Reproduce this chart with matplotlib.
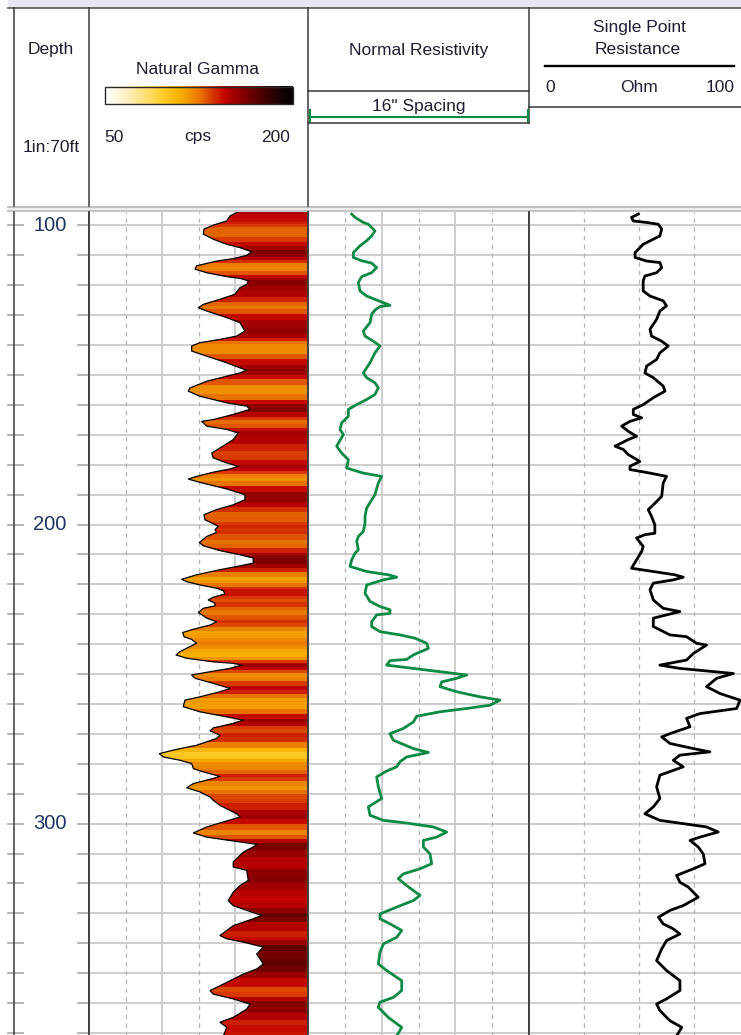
import numpy as np
import matplotlib
matplotlib.use("Agg")
import matplotlib.pyplot as plt
from matplotlib.colors import LinearSegmentedColormap
from matplotlib.patches import Rectangle
from matplotlib.transforms import blended_transform_factory

plt.rcParams['font.family'] = ['Liberation Sans', 'DejaVu Sans']

# ---------------------------------------------------------------- log data
GAMMA_DEPTH = [
    95.5, 96.8, 98.5, 99.2, 99.9, 101.2, 102.9, 104.6, 106.3, 107.4, 108.8,
    110.0, 111.1, 111.9, 113.5, 114.6, 115.8, 117.1, 117.7, 118.5, 119.7,
    120.8, 123.0, 124.7, 126.4, 127.5, 128.6, 130.8, 132.5, 135.3, 137.0,
    138.1, 139.2, 140.3, 142.0, 143.7, 145.9, 147.6, 148.4, 149.3, 150.4,
    152.1, 154.3, 155.4, 157.1, 159.3, 160.4, 161.5, 163.2, 164.9, 165.5,
    167.1, 168.2, 169.4, 171.6, 174.4, 176.1, 177.7, 179.4, 180.5, 181.4,
    182.5, 183.9, 184.8, 185.9, 188.1, 190.0, 191.7, 193.4, 195.0, 196.7,
    198.4, 199.7, 200.6, 201.7, 202.6, 204.0, 206.0, 207.1, 208.7, 210.1,
    211.2, 212.9, 213.8, 215.1, 216.8, 218.3, 219.1, 220.2, 221.3, 222.1,
    223.2, 224.3, 225.2, 226.3, 227.2, 228.0, 229.4, 231.3, 232.5, 233.6,
    235.0, 236.1, 237.5, 238.4, 239.7, 240.8, 242.5, 243.6, 244.7, 245.9,
    246.4, 247.0, 248.1, 249.2, 250.3, 251.4, 253.1, 254.8, 255.9, 257.6,
    258.7, 260.9, 262.6, 264.3, 265.4, 266.5, 268.0, 269.0, 270.4, 271.5,
    273.8, 275.4, 276.6, 277.7, 278.8, 279.9, 281.6, 282.7, 284.2, 284.9,
    286.6, 288.0, 289.4, 291.1, 292.2, 293.9, 296.7, 297.8, 299.1, 301.1,
    303.1, 304.5, 305.8, 306.9, 307.8, 309.5, 312.8, 314.5, 315.6, 319.0,
    320.7, 322.9, 325.7, 327.4, 329.0, 330.7, 331.8, 334.1, 337.4, 338.5,
    339.6, 341.3, 343.6, 346.9, 348.6, 350.3, 353.1, 355.8, 357.0, 358.6,
    360.3, 362.0, 364.8, 366.4, 368.1, 371.0,
]
GAMMA_CPS = [
    152.0, 146.6, 144.3, 139.7, 135.1, 128.8, 128.3, 135.1, 144.3, 153.4, 161.4,
    158.0, 148.8, 137.4, 123.7, 122.6, 130.6, 144.3, 153.4, 159.1, 158.0,
    153.4, 150.0, 139.7, 128.3, 124.9, 130.6, 144.3, 153.4, 156.8, 151.1,
    139.7, 126.0, 120.3, 120.3, 130.6, 144.3, 153.4, 158.0, 153.4, 144.3,
    130.6, 119.2, 118.0, 126.0, 144.3, 158.0, 160.3, 148.8, 135.1, 127.2,
    130.6, 144.3, 152.3, 148.8, 139.7, 134.0, 135.1, 144.3, 152.3, 146.6,
    135.1, 123.7, 118.0, 126.0, 144.3, 156.8, 156.8, 148.8, 137.4, 128.8,
    129.4, 135.1, 138.6, 136.3, 137.4, 130.6, 125.6, 128.3, 139.7, 153.4,
    162.5, 162.5, 153.4, 139.7, 123.7, 113.5, 116.9, 126.0, 137.4, 142.0,
    143.1, 135.1, 131.7, 136.3, 136.3, 128.3, 124.9, 130.6, 137.4, 132.9,
    121.5, 114.2, 115.1, 120.3, 123.7, 119.2, 112.3, 109.6, 116.9, 135.1,
    148.8, 154.6, 146.6, 132.9, 120.3, 122.6, 135.1, 146.6, 139.7, 126.0,
    115.7, 114.6, 126.0, 144.3, 155.7, 148.8, 135.1, 132.9, 139.7, 137.4,
    123.7, 107.8, 98.2, 100.9, 112.3, 120.3, 121.5, 128.3, 139.7, 135.1,
    121.5, 116.9, 126.0, 132.9, 135.1, 139.7, 151.1, 153.4, 144.3, 130.6,
    121.5, 130.6, 148.8, 164.8, 162.5, 155.7, 148.8, 148.8, 158.0, 159.1,
    153.4, 148.8, 145.4, 148.8, 158.0, 168.3, 162.5, 148.8, 139.7, 144.3,
    155.7, 169.4, 164.8, 169.4, 164.8, 155.7, 144.3, 132.9, 135.1, 148.8,
    160.3, 158.0, 148.8, 139.7, 144.3, 142.0,
]

RES_DEPTH = [
    96.2, 97.3, 99.0, 99.6, 101.8, 103.5, 105.1, 106.8, 109.1, 110.7, 111.8,
    112.6, 114.1, 115.8, 117.1, 119.1, 121.9, 123.6, 124.7, 125.8, 126.7,
    127.1, 128.3, 129.7, 132.5, 135.3, 137.0, 138.7, 140.3, 142.6, 145.9,
    149.3, 150.9, 152.6, 154.3, 156.5, 158.2, 159.9, 161.5, 163.8, 166.0,
    168.2, 169.9, 173.8, 176.1, 178.3, 181.1, 182.8, 183.9, 186.1, 190.0,
    194.5, 197.3, 199.5, 202.3, 204.0, 205.6, 208.4, 209.6, 211.8, 214.0,
    215.7, 216.8, 217.6, 218.5, 220.2, 223.0, 225.7, 227.4, 228.5, 229.7,
    230.2, 232.5, 234.1, 235.8, 236.9, 238.0, 239.7, 241.4, 243.6, 245.1,
    245.5, 247.0, 248.1, 249.2, 250.3, 251.4, 252.6, 254.2, 255.9, 257.6,
    258.7, 260.4, 261.5, 262.6, 264.1, 266.0, 268.2, 269.9, 272.1, 274.9,
    276.2, 277.7, 279.3, 281.0, 282.4, 284.4, 287.7, 291.6, 294.4, 297.2,
    298.9, 299.8, 301.1, 302.8, 304.5, 305.6, 307.8, 310.1, 313.4, 315.1,
    316.8, 318.4, 320.7, 324.0, 325.7, 327.9, 330.2, 331.8, 333.5, 335.7,
    338.0, 340.2, 343.0, 346.9, 349.1, 352.5, 355.8, 358.1, 359.7, 361.4,
    364.8, 368.1, 371.0,
]
RES_OHMM = [
    59.3, 63.8, 75.1, 81.9, 90.9, 86.4, 79.6, 70.6, 61.5, 61.5, 72.9,
    86.4, 93.2, 86.4, 72.9, 68.3, 70.6, 79.6, 90.9, 102.3, 111.3,
    97.7, 90.9, 86.4, 84.2, 75.1, 77.4, 88.7, 97.7, 90.9, 84.2,
    75.1, 79.6, 90.9, 95.5, 90.9, 79.6, 66.1, 54.8, 54.8, 45.7,
    43.4, 48.0, 38.9, 45.7, 54.8, 52.5, 75.1, 100.0, 95.5, 90.9,
    79.6, 77.4, 77.4, 75.1, 68.3, 66.1, 68.3, 63.8, 59.3, 57.0,
    79.6, 109.1, 120.4, 102.3, 79.6, 77.4, 84.2, 97.7, 111.3, 111.3,
    93.2, 86.4, 86.4, 97.7, 124.9, 145.3, 161.1, 163.4, 143.0, 133.9,
    111.3, 106.8, 143.0, 179.2, 215.4, 201.8, 181.5, 179.2, 201.8, 233.5,
    260.6, 247.1, 215.4, 179.2, 147.5, 143.0, 129.4, 111.3, 115.8, 143.0,
    163.4, 133.9, 124.9, 120.4, 106.8, 93.2, 95.5, 100.0, 81.9, 84.2,
    102.3, 133.9, 170.1, 188.2, 174.7, 156.6, 156.6, 165.6, 167.9, 152.0,
    129.4, 122.6, 133.9, 152.0, 143.0, 120.4, 97.7, 97.7, 111.3, 127.2,
    120.4, 102.3, 97.7, 95.5, 106.8, 127.2, 127.2, 115.8, 97.7, 95.5,
    109.1, 127.2, 120.4,
]

SPR_DEPTH = [
    96.2, 97.3, 98.5, 99.0, 99.6, 101.2, 103.5, 104.6, 106.3, 109.1, 110.7,
    111.9, 112.4, 114.1, 115.8, 116.9, 118.5, 121.9, 123.6, 125.2, 126.9,
    128.6, 131.4, 134.7, 137.0, 138.7, 140.3, 142.6, 144.8, 147.0, 149.3,
    150.9, 153.7, 155.4, 157.6, 159.9, 161.5, 163.2, 164.3, 165.5, 167.1,
    168.8, 170.5, 171.6, 173.8, 174.9, 176.6, 178.9, 180.5, 181.6, 182.8,
    183.9, 186.1, 190.6, 193.4, 195.0, 197.3, 200.1, 202.9, 203.4, 204.5,
    207.3, 209.0, 211.8, 214.6, 215.7, 216.8, 217.6, 218.5, 219.6, 221.8,
    225.2, 228.0, 229.1, 230.2, 231.3, 234.1, 236.9, 237.5, 239.7, 240.3,
    243.1, 245.3, 247.0, 248.1, 249.8, 251.4, 254.2, 256.5, 258.7, 261.5,
    263.2, 264.8, 267.6, 269.9, 271.0, 273.2, 274.9, 276.0, 277.1, 278.8,
    281.0, 283.8, 287.7, 291.6, 294.4, 296.7, 298.9, 300.0, 301.1, 302.8,
    304.5, 305.6, 307.8, 310.1, 313.4, 315.1, 317.3, 319.6, 321.2, 324.6,
    327.4, 329.0, 331.3, 333.5, 335.2, 336.9, 339.1, 341.9, 345.8, 349.1,
    352.5, 355.8, 358.6, 360.3, 362.5, 365.9, 368.1, 371.0,
]
SPR_OHM = [
    49.7, 46.6, 47.4, 53.5, 58.8, 60.3, 59.5, 56.5, 51.9, 48.2, 48.2,
    53.5, 59.5, 60.3, 58.0, 52.7, 51.9, 51.9, 55.0, 61.0, 62.5,
    59.5, 58.0, 55.0, 55.7, 60.3, 63.3, 59.5, 58.0, 53.5, 52.7,
    56.5, 61.0, 61.8, 56.5, 51.9, 47.4, 47.4, 51.2, 45.9, 42.1,
    45.1, 48.9, 45.1, 39.1, 42.9, 45.1, 50.4, 45.9, 45.9, 55.0,
    62.5, 61.0, 60.3, 56.5, 54.2, 55.7, 57.2, 57.2, 52.7, 48.9,
    51.9, 51.2, 48.9, 46.6, 56.5, 66.3, 70.1, 65.6, 56.5, 55.0,
    56.5, 61.0, 68.6, 62.5, 56.5, 56.5, 64.1, 71.6, 76.2, 80.7,
    74.7, 71.6, 59.5, 68.6, 92.9, 85.3, 80.7, 86.8, 95.9, 94.4,
    77.7, 71.6, 73.2, 64.1, 60.3, 64.1, 74.7, 82.2, 68.6, 65.6,
    70.1, 59.5, 58.0, 59.5, 56.5, 52.7, 59.5, 70.1, 80.7, 86.0,
    77.7, 73.2, 76.9, 79.2, 80.0, 74.7, 67.1, 68.6, 72.4, 76.9,
    70.1, 64.1, 58.8, 61.0, 65.6, 68.6, 62.5, 60.3, 58.0, 62.5,
    68.6, 68.6, 62.5, 58.0, 59.5, 64.1, 69.4, 67.1,
]

DEPTH_LABELS = [100, 200, 300]
GRID_DEPTHS = list(range(100, 371, 10))

GAMMA_RANGE = (50, 200)
RES_RANGE = (0, 300)
SPR_RANGE = (0, 100)
DEPTH_TOP, DEPTH_BOTTOM = 95.5, 371.0

# ---------------------------------------------------------------- styling
W, H = 741, 1035
TEXT = '#1e1e30'
DEPTH_TEXT = '#1f3560'
FRAME = '#3a3a3a'
GRID = '#cdcdcd'
DASH = '#b4b4b4'
GREEN = '#0b8a45'

gamma_cmap = LinearSegmentedColormap.from_list('gamma', [
    (0.00, '#ffffff'), (0.12, '#fff0c0'), (0.30, '#ffd030'),
    (0.40, '#f8b000'), (0.50, '#ea7800'), (0.57, '#d83800'),
    (0.64, '#c00000'), (0.78, '#6a0000'), (0.92, '#200000'),
    (1.00, '#000000'),
])

fig = plt.figure(figsize=(W / 100, H / 100), dpi=100)
fig.patch.set_facecolor('white')


def px_axes(x0, y0, x1, y1, **kw):
    return fig.add_axes([x0 / W, 1 - y1 / H, (x1 - x0) / W, (y1 - y0) / H], **kw)


# ---------------------------------------------------------------- header
hdr = px_axes(0, 0, W, H, zorder=0)
hdr.set_xlim(0, W)
hdr.set_ylim(H, 0)
hdr.axis('off')

# top band and header/body separator
hdr.add_patch(Rectangle((8, 0), W, 7.5, color='#e6e6f0', lw=0))
hdr.plot([8, W], [8, 8], color='#555555', lw=1.2)
hdr.add_patch(Rectangle((8, 205.5), W, 6.5, color='#ececec', lw=0))
hdr.plot([8, W], [206.5, 206.5], color='#bcbcbc', lw=1.3)
hdr.plot([8, W], [211.2, 211.2], color='#c4c4c4', lw=1.3)

# header track dividers
for x in (14, 89, 308):
    hdr.plot([x, x], [8, 205.5], color=FRAME, lw=1.1)
hdr.plot([529, 529], [8, 123], color=FRAME, lw=1.1)

hfont = dict(fontsize=12.5, color=TEXT, ha='center', va='baseline')

# depth header
hdr.text(50.5, 54, 'Depth', **hfont)
hdr.text(51, 152.5, '1in:70ft', **hfont)

# natural gamma header with colour scale
hdr.text(197.5, 74, 'Natural Gamma', **hfont)
hdr.imshow(np.linspace(0, 1, 256)[None, :], cmap=gamma_cmap, aspect='auto',
           extent=(105, 293, 104, 86.5), interpolation='bilinear')
hdr.add_patch(Rectangle((105, 86.5), 188, 17.5, fill=False, ec='#2a2a2a', lw=1.0))
hdr.text(114, 141.5, str(GAMMA_RANGE[0]), **hfont)
hdr.text(198, 141.5, 'cps', **hfont)
hdr.text(276, 141.5, str(GAMMA_RANGE[1]), **hfont)

# normal resistivity header
hdr.text(418.7, 55.3, 'Normal Resistivity', **hfont)
hdr.plot([308, 529], [91, 91], color=FRAME, lw=1.1)
hdr.text(419.2, 110.7, '16" Spacing', **hfont)
hdr.plot([310, 528], [116.8, 116.8], color=GREEN, lw=1.5)
hdr.plot([310, 310], [110, 122], color=GREEN, lw=1.5)
hdr.plot([528, 528], [110, 122], color=GREEN, lw=1.5)
hdr.plot([308, 529], [122.7, 122.7], color=FRAME, lw=1.1)

# single point resistance header
hdr.text(639.3, 32.3, 'Single Point', **hfont)
hdr.text(637.5, 54, 'Resistance', **hfont)
hdr.plot([545, 734], [66, 66], color='black', lw=1.7)
hdr.text(550, 91.7, str(SPR_RANGE[0]), **hfont)
hdr.text(639, 91.7, 'Ohm', **hfont)
hdr.text(720, 91.7, str(SPR_RANGE[1]), **hfont)
hdr.plot([529, W], [106.7, 106.7], color=FRAME, lw=1.1)

hdr.set_xlim(0, W)
hdr.set_ylim(H, 0)


# ---------------------------------------------------------------- tracks
def make_track(x0, x1, xrange):
    ax = px_axes(x0, 212, x1, H + 1, zorder=2)
    ax.set_xlim(*xrange)
    ax.set_ylim(DEPTH_BOTTOM, DEPTH_TOP)
    ax.set_xticks([])
    ax.set_yticks([])
    ax.patch.set_alpha(0)
    for side in ('top', 'bottom'):
        ax.spines[side].set_visible(False)
    for side in ('left', 'right'):
        ax.spines[side].set_color(FRAME)
        ax.spines[side].set_linewidth(1.1)
    return ax


def grid(ax, solid, dashed):
    for d in GRID_DEPTHS:
        ax.axhline(d, color=GRID, lw=1.4, zorder=0)
    for x in solid:
        ax.axvline(x, color=GRID, lw=1.4, zorder=0)
    for x in dashed:
        ax.axvline(x, color=DASH, lw=0.9, ls=(0, (3.5, 3.5)), zorder=0)


# depth track
axd = make_track(14, 89, (0, 1))
tr = blended_transform_factory(axd.transAxes, axd.transData)
for d in GRID_DEPTHS:
    axd.plot([-0.08, 0.12], [d, d], transform=tr, color='#a8a8a8', lw=1.2,
             clip_on=False)
    axd.plot([0.853, 1.0], [d, d], transform=tr, color='#a8a8a8', lw=1.2)
for d in DEPTH_LABELS:
    axd.text(0.48, d, str(d), transform=tr, ha='center', va='center',
             fontsize=14.5, color=DEPTH_TEXT)

# natural gamma track: colour-banded fill from the curve to the right edge
axg = make_track(89, 308, GAMMA_RANGE)
grid(axg, solid=[100, 150], dashed=[75, 125, 175])
gd = np.asarray(GAMMA_DEPTH)
gv = np.asarray(GAMMA_CPS)
shade = axg.fill_betweenx(gd, gv, GAMMA_RANGE[1], facecolor='none',
                          edgecolor='none')
edges = np.concatenate([[gd[0]], (gd[1:] + gd[:-1]) / 2, [gd[-1]]])
bands = axg.pcolormesh(list(GAMMA_RANGE), edges, gv[:, None], cmap=gamma_cmap,
                       vmin=GAMMA_RANGE[0], vmax=GAMMA_RANGE[1],
                       shading='flat', antialiased=False, zorder=1)
bands.set_clip_path(shade.get_paths()[0], axg.transData)
axg.plot(gv, gd, color='black', lw=0.9, zorder=2)

# normal resistivity track
axr = make_track(308, 529, RES_RANGE)
grid(axr, solid=[100, 200], dashed=[50, 150, 250])
axr.plot(RES_OHMM, RES_DEPTH, color=GREEN, lw=2.0, zorder=2)

# single point resistance track
axs = make_track(529, 749, SPR_RANGE)
grid(axs, solid=[], dashed=[25, 50, 75])
axs.plot(SPR_OHM, SPR_DEPTH, color='black', lw=2.0, zorder=2)

fig.savefig('out.png', dpi=100, facecolor='white')
